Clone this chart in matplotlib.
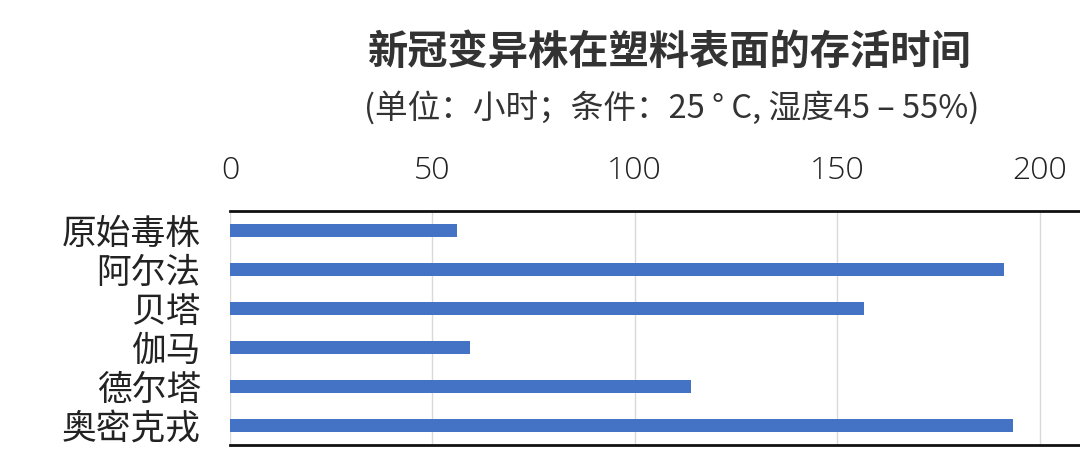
import matplotlib.pyplot as plt

plt.rcParams['font.family'] = ['Noto Sans CJK SC', 'DejaVu Sans']

variants = ['原始毒株', '阿尔法', '贝塔', '伽马', '德尔塔', '奥密克戎']
hours = [56.0, 191.3, 156.6, 59.3, 114.0, 193.5]
ticks = [0, 50, 100, 150, 200]

fig = plt.figure(figsize=(10.8, 4.74), dpi=100)
ax = fig.add_axes([230 / 1080, 29 / 474, 850 / 1080, 234 / 474])

ax.barh(range(len(variants)), hours, height=0.34, color='#4472c4', zorder=3)
ax.set_ylim(len(variants) - 0.5, -0.5)
ax.set_xlim(0, 210)
ax.set_yticks(range(len(variants)))
ax.set_yticklabels(variants, fontsize=25, color='#222222')
ax.set_xticks(ticks)
ax.set_xticklabels([str(t) for t in ticks], fontsize=23, color='#222222',
                   family=['Open Sans', 'DejaVu Sans'], fontweight='light')
ax.xaxis.tick_top()
ax.tick_params(axis='both', length=0)
ax.tick_params(axis='x', pad=17)
ax.tick_params(axis='y', pad=21)
ax.grid(axis='x', color='#d9d9d9', linewidth=1, zorder=0)
for s in ['left', 'right']:
    ax.spines[s].set_visible(False)
for s in ['top', 'bottom']:
    ax.spines[s].set_linewidth(2)
    ax.spines[s].set_color('#111111')

fig.text(0.62, 0.89, '新冠变异株在塑料表面的存活时间', ha='center', va='center',
         fontsize=29, fontweight='bold', color='#333333')
fig.text(0.622, 0.772, '(单位：小时；条件：25 ° C, 湿度45 – 55%)', ha='center', va='center',
         fontsize=23.5, color='#333333')

fig.savefig('out.png')
